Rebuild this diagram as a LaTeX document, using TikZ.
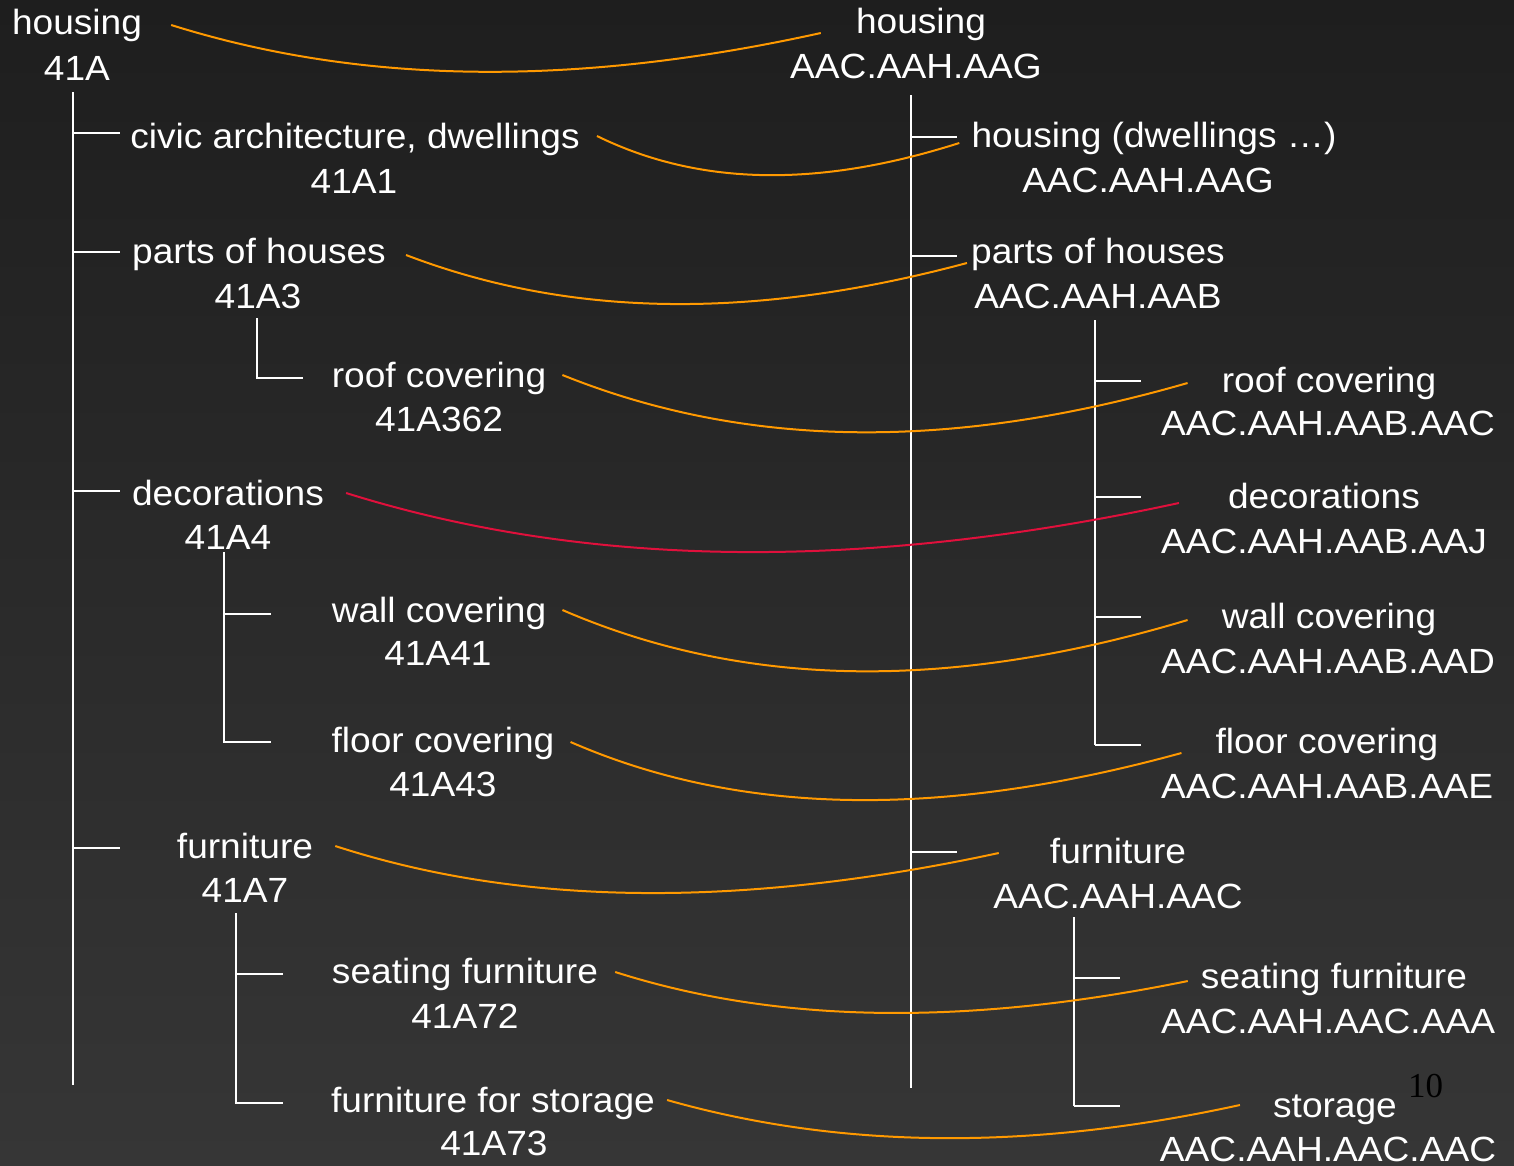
\documentclass[tikz,border=0pt]{standalone}
\usepackage{fontspec}
\setmainfont{Liberation Sans}[FakeStretch=1.06]
\newfontfamily\numfont{Liberation Serif}
\definecolor{bgtop}{HTML}{1E1E1E}
\definecolor{bgbottom}{HTML}{363636}
\definecolor{linkorange}{HTML}{FF9900}
\definecolor{linkred}{HTML}{E0103C}
\begin{document}
\begin{tikzpicture}[x=1pt,y=-1pt,
  lbl/.style={anchor=base, inner sep=0pt, text=white, font=\fontsize{35}{42}\selectfont},
  tree/.style={draw=white, line width=1.8pt},
  link/.style={draw=linkorange, line width=2pt},
  hot/.style={draw=linkred, line width=2pt}]

% background
\useasboundingbox (0,0) rectangle (1514,1165);
\shade[top color=bgtop, bottom color=bgbottom] (0,0) rectangle (1514,1165);

% ---------- left hierarchy ----------
\node[lbl] (L1t) at (77,34)  {housing};
\node[lbl] (L1c) at (77,80)  {41A};
\node[lbl] (L2t) at (355,148) {civic architecture, dwellings};
\node[lbl] (L2c) at (354,193) {41A1};
\node[lbl] (L3t) at (259,263) {parts of houses};
\node[lbl] (L3c) at (258,308) {41A3};
\node[lbl] (L4t) at (439,387) {roof covering};
\node[lbl] (L4c) at (439,431) {41A362};
\node[lbl] (L5t) at (228,505) {decorations};
\node[lbl] (L5c) at (228,549) {41A4};
\node[lbl] (L6t) at (439,622) {wall covering};
\node[lbl] (L6c) at (438,665) {41A41};
\node[lbl] (L7t) at (443,752) {floor covering};
\node[lbl] (L7c) at (443,796) {41A43};
\node[lbl] (L8t) at (245,858) {furniture};
\node[lbl] (L8c) at (245,902) {41A7};
\node[lbl] (L9t) at (465,983) {seating furniture};
\node[lbl] (L9c) at (465,1028) {41A72};
\node[lbl] (L10t) at (493,1112) {furniture for storage};
\node[lbl] (L10c) at (494,1155) {41A73};

% ---------- right hierarchy ----------
\node[lbl] (R1t) at (921,33)  {housing};
\node[lbl] (R1c) at (916,78)  {AAC.AAH.AAG};
\node[lbl] (R2t) at (1154,147) {housing (dwellings …)};
\node[lbl] (R2c) at (1148,192) {AAC.AAH.AAG};
\node[lbl] (R3t) at (1098,263) {parts of houses};
\node[lbl] (R3c) at (1098,308) {AAC.AAH.AAB};
\node[lbl] (R4t) at (1329,392) {roof covering};
\node[lbl] (R4c) at (1328,435) {AAC.AAH.AAB.AAC};
\node[lbl] (R5t) at (1324,508) {decorations};
\node[lbl] (R5c) at (1324,553) {AAC.AAH.AAB.AAJ};
\node[lbl] (R6t) at (1329,628) {wall covering};
\node[lbl] (R6c) at (1328,673) {AAC.AAH.AAB.AAD};
\node[lbl] (R7t) at (1327,753) {floor covering};
\node[lbl] (R7c) at (1327,798) {AAC.AAH.AAB.AAE};
\node[lbl] (R8t) at (1118,863) {furniture};
\node[lbl] (R8c) at (1118,908) {AAC.AAH.AAC};
\node[lbl] (R9t) at (1334,988) {seating furniture};
\node[lbl] (R9c) at (1328,1033) {AAC.AAH.AAC.AAA};
\node[lbl] (R10t) at (1335,1117) {storage};
\node[lbl] (R10c) at (1328,1161) {AAC.AAH.AAC.AAC};

% page number
\node[anchor=base, inner sep=0pt, text=black, font=\numfont\fontsize{35}{42}\selectfont] (pg) at (1425.5,1097) {10};

% ---------- tree brackets ----------
% left
\draw[tree] (73,92) -- (73,1085);
\foreach \y in {133,252,491,848} \draw[tree] (73,\y) -- (120,\y);
\draw[tree] (257,318) -- (257,378) -- (303,378);
\draw[tree] (224,552) -- (224,742) -- (271,742);
\draw[tree] (224,614) -- (271,614);
\draw[tree] (236,913) -- (236,1103) -- (283,1103);
\draw[tree] (236,974) -- (283,974);
% right
\draw[tree] (911,95) -- (911,1088);
\foreach \y in {137,256,852} \draw[tree] (911,\y) -- (957,\y);
\draw[tree] (1095,320) -- (1095,745);
\foreach \y in {381,497,617,745} \draw[tree] (1095,\y) -- (1141,\y);
\draw[tree] (1074,917) -- (1074,1106);
\foreach \y in {978,1106} \draw[tree] (1074,\y) -- (1120,\y);

% ---------- correspondences ----------
\draw[link] ([shift={(29,-9)}]L1t.base east) .. controls +(194,61) and +(-240,53) .. ([shift={(-35,0)}]R1t.base west);
\draw[link] ([shift={(17,-12)}]L2t.base east) .. controls +(104,51) and +(-138,44) .. ([shift={(-12,-4)}]R2t.base west);
\draw[link] ([shift={(20,-8)}]L3t.base east) .. controls +(167,64) and +(-209,56) .. ([shift={(-4,0)}]R3t.base west);
\draw[link] ([shift={(16,-12)}]L4t.base east) .. controls +(186,75) and +(-232,67) .. ([shift={(-34,-9)}]R4t.base west);
\draw[hot]  ([shift={(22,-12)}]L5t.base east) .. controls +(246,77) and +(-310,67) .. ([shift={(-49,-5)}]R5t.base west);
\draw[link] ([shift={(16,-12)}]L6t.base east) .. controls +(185,80) and +(-233,70) .. ([shift={(-34,-8)}]R6t.base west);
\draw[link] ([shift={(16,-10)}]L7t.base east) .. controls +(173,75.5) and +(-235,64.5) .. ([shift={(-34,0)}]R7t.base west);
\draw[link] ([shift={(22,-12)}]L8t.base east) .. controls +(189,61.5) and +(-253,54.5) .. ([shift={(-51,-10)}]R8t.base west);
\draw[link] ([shift={(17,-11)}]L9t.base east) .. controls +(166,53) and +(-216,44) .. ([shift={(-13,-7)}]R9t.base west);
\draw[link] ([shift={(12,-12)}]L10t.base east) .. controls +(176,50) and +(-206,45) .. ([shift={(-33,-12)}]R10t.base west);
\end{tikzpicture}
\end{document}
